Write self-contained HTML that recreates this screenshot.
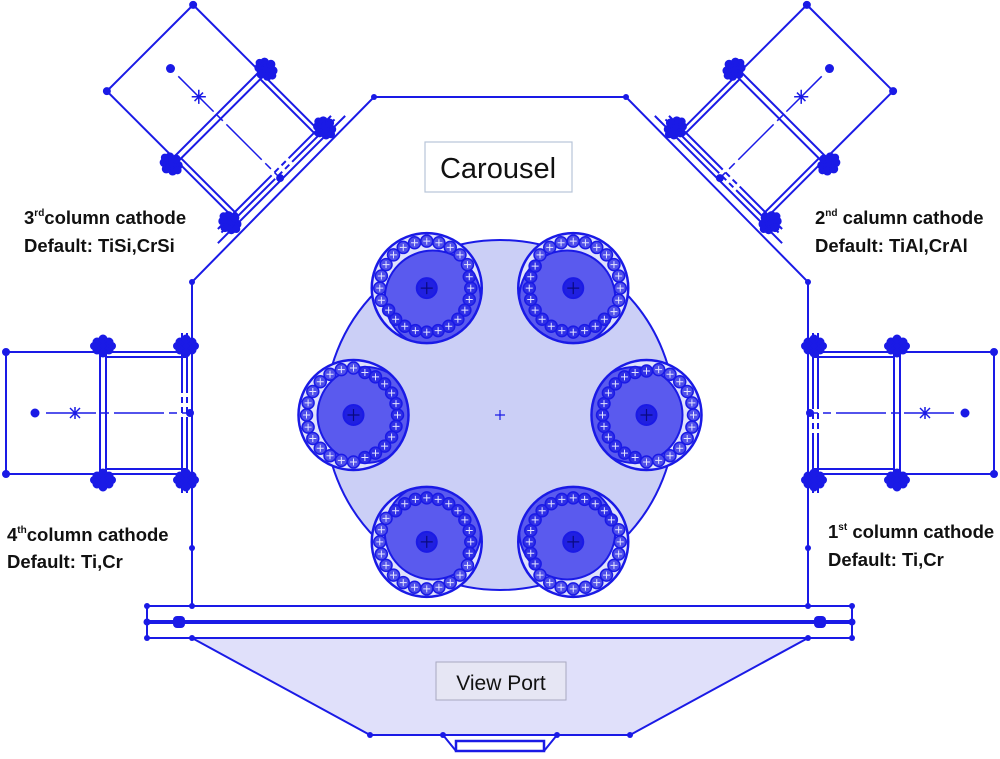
<!DOCTYPE html>
<html><head><meta charset="utf-8"><style>
html,body{margin:0;padding:0;background:#fff;}
svg{display:block;}
text{font-family:"Liberation Sans",sans-serif;fill:#111;}
</style></head><body>
<svg id="s" width="1000" height="759" viewBox="0 0 1000 759" xmlns="http://www.w3.org/2000/svg">
<defs>
<g id="cl" fill="#1a1ae6">
<circle cx="0" cy="0" r="5"/><circle cx="-6" cy="-4" r="3.5"/><circle cx="6" cy="-4" r="3.5"/><circle cx="-6" cy="4" r="3.5"/><circle cx="6" cy="4" r="3.5"/><circle cx="0" cy="-7" r="3.5"/><circle cx="0" cy="7" r="3.5"/><circle cx="-9" cy="0" r="3"/><circle cx="9" cy="0" r="3"/>
</g>
<g id="cath" stroke="#1a1ae6" fill="none" stroke-width="2">
<line x1="0" y1="-61" x2="0" y2="61"/>
<line x1="0" y1="-61" x2="97" y2="-61"/>
<line x1="0" y1="61" x2="97" y2="61"/>
<circle cx="0" cy="-61" r="3" fill="#1a1ae6"/><circle cx="0" cy="61" r="3" fill="#1a1ae6"/>
<line x1="94" y1="-72" x2="94" y2="72"/>
<line x1="100" y1="-72" x2="100" y2="72"/>
<line x1="100" y1="-61" x2="180" y2="-61"/><line x1="100" y1="-56" x2="180" y2="-56"/>
<line x1="100" y1="61" x2="180" y2="61"/><line x1="100" y1="56" x2="180" y2="56"/>
<line x1="176" y1="-80" x2="176" y2="80" stroke-dasharray="60 4 6 4 6 4 200"/>
<line x1="181" y1="-80" x2="181" y2="80" stroke-dasharray="60 4 6 4 6 4 200"/>
<line x1="186" y1="-90" x2="186" y2="90"/>
<circle cx="29" cy="0" r="3.5" fill="#1a1ae6"/>
<line x1="40" y1="0" x2="186" y2="0" stroke-width="1.5" stroke-dasharray="50 5 8 5"/>
<path d="M64,-5 L74,5 M64,5 L74,-5 M69,-6 L69,6" stroke-width="1.5"/>
<circle cx="184" cy="0" r="3" fill="#1a1ae6"/>
<use href="#cl" x="97" y="-67"/><use href="#cl" x="97" y="67"/>
<use href="#cl" x="180" y="-67"/><use href="#cl" x="180" y="67"/>
</g>
</defs>

<path d="M192,638 L808,638 L630,735 L370,735 Z" fill="#e0e0fa" stroke="#1a1ae6" stroke-width="2"/>
<rect x="456" y="741" width="88" height="10" fill="none" stroke="#1a1ae6" stroke-width="2.5"/>
<path d="M443,735 L456,751 M557,735 L544,751" stroke="#1a1ae6" stroke-width="2"/>
<g fill="#1a1ae6"><circle cx="370" cy="735" r="3"/><circle cx="630" cy="735" r="3"/><circle cx="443" cy="735" r="3"/><circle cx="557" cy="735" r="3"/><circle cx="192" cy="638" r="3"/><circle cx="808" cy="638" r="3"/></g>

<g stroke="#1a1ae6" fill="none">
<line x1="147" y1="606" x2="852" y2="606" stroke-width="2"/>
<line x1="147" y1="622" x2="852" y2="622" stroke-width="4"/>
<line x1="147" y1="638" x2="852" y2="638" stroke-width="2"/>
<line x1="147" y1="606" x2="147" y2="638" stroke-width="2"/>
<line x1="852" y1="606" x2="852" y2="638" stroke-width="2"/>
</g>
<g fill="#1a1ae6"><circle cx="147" cy="606" r="3"/><circle cx="147" cy="622" r="3.5"/><circle cx="147" cy="638" r="3"/><circle cx="852" cy="606" r="3"/><circle cx="852" cy="622" r="3.5"/><circle cx="852" cy="638" r="3"/><rect x="173" y="616" width="12" height="12" rx="4"/><rect x="814" y="616" width="12" height="12" rx="4"/><circle cx="192" cy="606" r="3"/><circle cx="808" cy="606" r="3"/></g>

<path d="M192,606 L192,282 L374,97 L626,97 L808,282 L808,606" fill="none" stroke="#1a1ae6" stroke-width="2"/>
<g fill="#1a1ae6"><circle cx="374" cy="97" r="3"/><circle cx="626" cy="97" r="3"/><circle cx="192" cy="282" r="3"/><circle cx="808" cy="282" r="3"/><circle cx="192" cy="548" r="3"/><circle cx="808" cy="548" r="3"/></g>

<use href="#cath" transform="translate(6,413)"/>
<use href="#cath" transform="translate(994,413) rotate(180)"/>
<use href="#cath" transform="translate(150,48) rotate(45)"/>
<use href="#cath" transform="translate(850,48) rotate(135)"/>

<circle cx="500" cy="415" r="175" fill="#cbcff6" stroke="#1a1ae6" stroke-width="2"/>
<path d="M495,415 h10 M500,410 v10" stroke="#1a1ae6" stroke-width="1.2"/>
<g id="sats"></g>

<rect x="425" y="142" width="147" height="50" fill="#fff" stroke="#b8c4d8" stroke-width="1.2"/>
<text x="498" y="178" font-size="29" text-anchor="middle">Carousel</text>
<rect x="436" y="662" width="130" height="38" fill="#e6e6f4" stroke="#a8a8c0" stroke-width="1"/>
<text x="501" y="690" font-size="21" text-anchor="middle">View Port</text>

<g font-size="18.5" font-weight="bold">
<text x="24" y="224">3<tspan font-size="10" dy="-8">rd</tspan><tspan dy="8">column cathode</tspan></text>
<text x="24" y="252">Default: TiSi,CrSi</text>
<text x="815" y="224">2<tspan font-size="10" dy="-8">nd</tspan><tspan dy="8"> calumn cathode</tspan></text>
<text x="815" y="252">Default: TiAl,CrAl</text>
<text x="7" y="541">4<tspan font-size="10" dy="-8">th</tspan><tspan dy="8">column cathode</tspan></text>
<text x="7" y="568">Default: Ti,Cr</text>
<text x="828" y="538">1<tspan font-size="10" dy="-8">st</tspan><tspan dy="8"> column cathode</tspan></text>
<text x="828" y="566">Default: Ti,Cr</text>
</g>
</svg>
<script>
(function(){
var g=document.getElementById("sats"),out="<defs>";
var B="#1a1ae6";
var angs=[-120,-60,180,0,120,60];
var C=[];
for(var k=0;k<6;k++){
 var a=angs[k]*Math.PI/180;
 var cx=500+146.5*Math.cos(a),cy=415+146.5*Math.sin(a);
 C.push([cx,cy,a]);
 out+='<clipPath id="cp'+k+'"><circle cx="'+cx+'" cy="'+cy+'" r="54"/></clipPath>';
}
out+="</defs>";
for(var k=0;k<6;k++){
 var cx=C[k][0],cy=C[k][1],a=C[k][2];
 var ix=cx-12*Math.cos(a),iy=cy-12*Math.sin(a);
 out+='<circle cx="'+cx+'" cy="'+cy+'" r="55" fill="#dfe2fb"/>';
 out+='<circle cx="'+ix+'" cy="'+iy+'" r="48" fill="#5a5aee" stroke="'+B+'" stroke-width="2" clip-path="url(#cp'+k+')"/>';
 out+='<circle cx="'+cx+'" cy="'+cy+'" r="55" fill="none" stroke="'+B+'" stroke-width="2.5"/>';
 var n=24;
 for(var i=0;i<n;i++){
  var t=2*Math.PI*i/n;
  var dx=Math.cos(t),dy=Math.sin(t);
  var f=-(dx*Math.cos(a)+dy*Math.sin(a));
  var r=f>0?44:47;
  var bx=cx+r*dx,by=cy+r*dy;
  out+='<circle cx="'+bx+'" cy="'+by+'" r="6" fill="'+(f>0?'#3030e6':'#5050ea')+'" stroke="'+B+'" stroke-width="1.5"/>';
  out+='<path d="M'+(bx-3.5)+','+by+' h7 M'+bx+','+(by-3.5)+' v7" stroke="#e4e4ff" stroke-width="1"/>';
 }
 out+='<circle cx="'+cx+'" cy="'+cy+'" r="10" fill="#2020e0" stroke="'+B+'" stroke-width="2"/>';
 out+='<path d="M'+(cx-6)+','+cy+' h12 M'+cx+','+(cy-6)+' v12" stroke="#0a0a80" stroke-width="1.2"/>';
}
g.innerHTML=out;
})();
</script>
</body></html>
